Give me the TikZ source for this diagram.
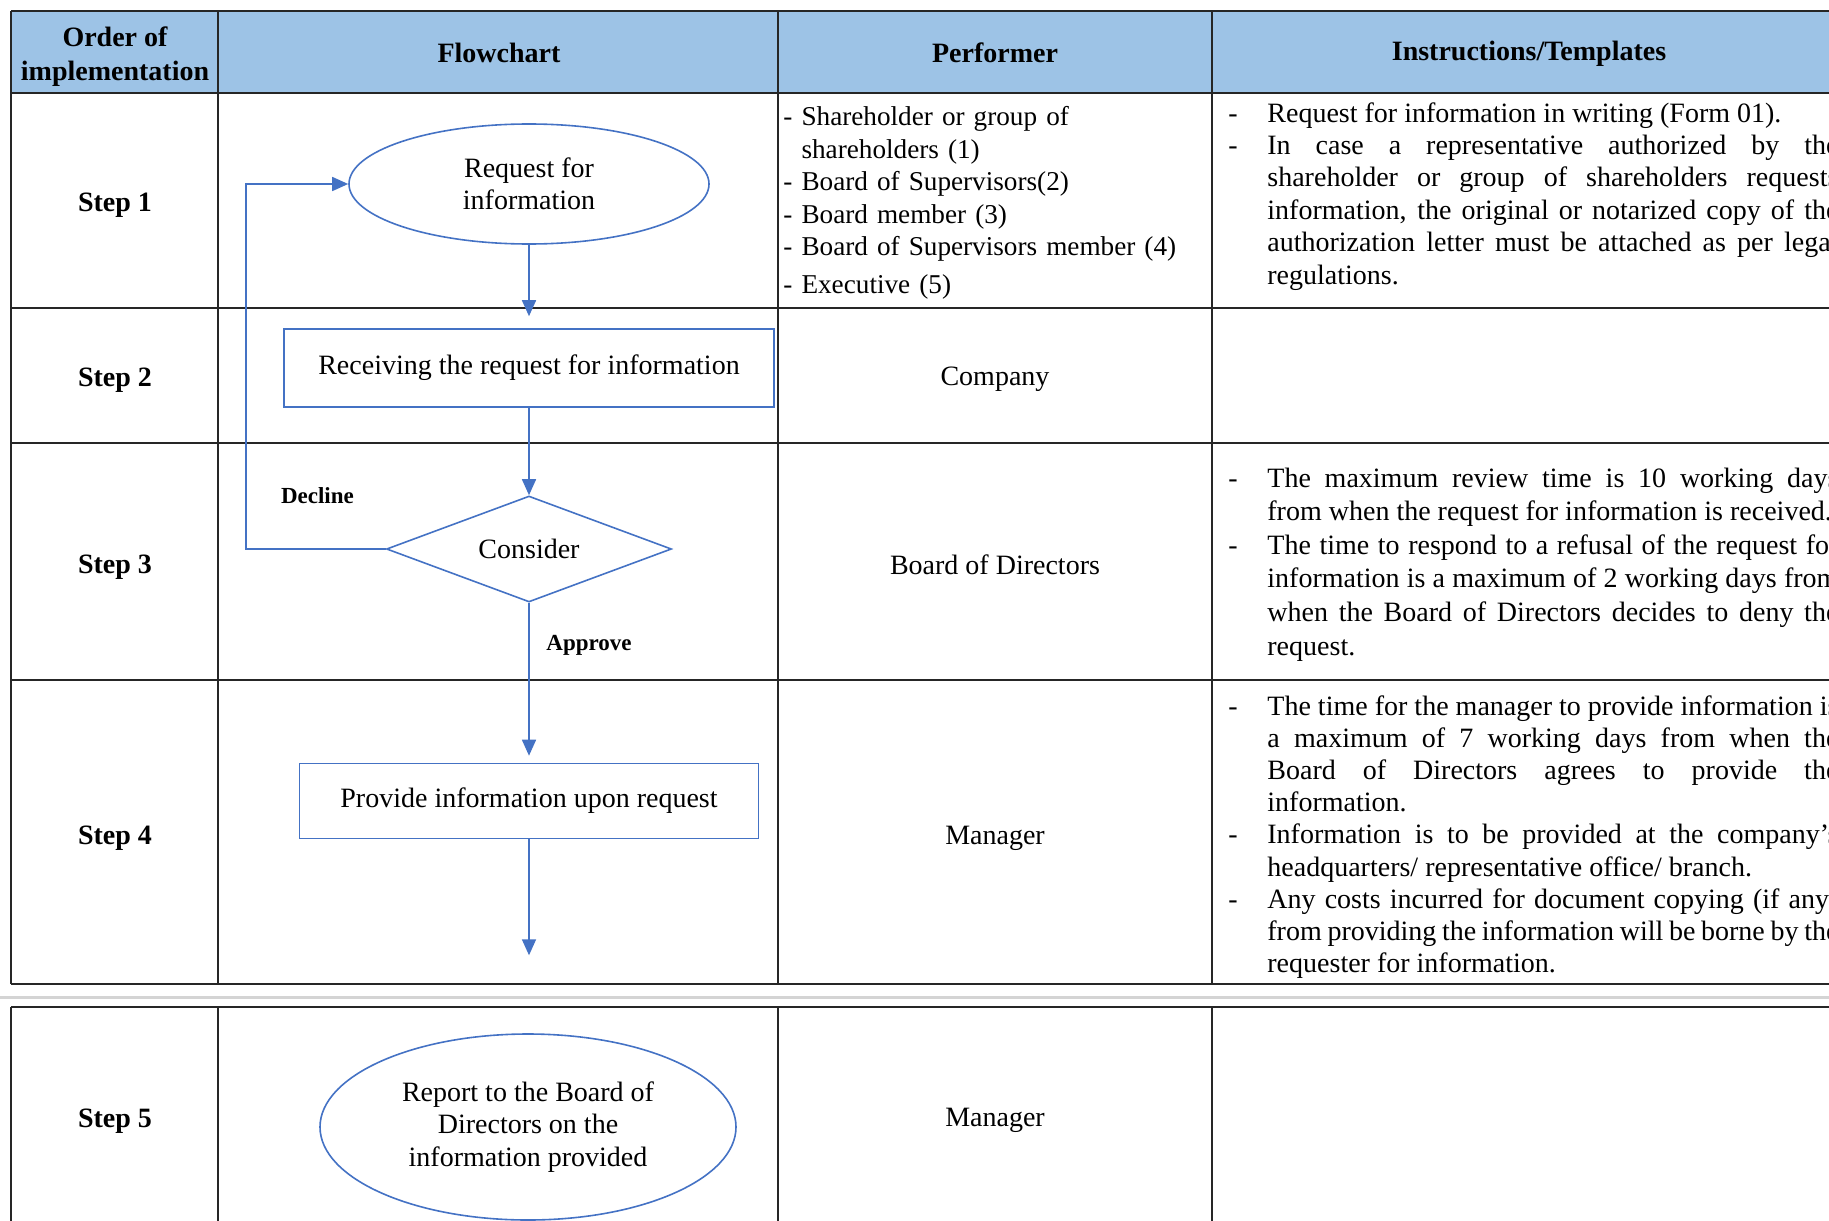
\documentclass[tikz,border=0pt]{standalone}
\usepackage{fontspec}
\setmainfont{Liberation Serif}
\usetikzlibrary{arrows.meta, positioning, shapes.geometric}
\definecolor{headblue}{HTML}{9DC3E6}
\definecolor{flowblue}{HTML}{4472C4}
\definecolor{gapgray}{HTML}{D4D4D4}

\newcommand{\dashmark}{\leavevmode\llap{\makebox[19.5pt][l]{-}}}

\begin{document}
\begin{tikzpicture}[
    x=0.5pt, y=-0.5pt,
    txt/.style={font=\fontsize{14}{16.2}\selectfont},
    head/.style={font=\fontsize{14}{17}\selectfont\bfseries, align=center},
    steplbl/.style={font=\fontsize{14}{16.2}\selectfont\bfseries},
    grid/.style={line width=1pt, black!85},
    flow/.style={txt, draw=flowblue, line width=0.8pt, align=center, inner sep=0pt},
    terminal/.style={flow, ellipse},
    process/.style={flow, rectangle},
    decision/.style={flow, diamond, aspect=2.7},
    arr/.style={flowblue, line width=0.8pt, -{Triangle[length=8pt,width=7pt]}},
    lbl/.style={font=\fontsize{11.5}{13}\selectfont\bfseries},
    list/.style={font=\fontsize{13.6}{16.2}\selectfont, text width=215pt, align=left, anchor=base west, inner sep=0pt},
    instr/.style={txt, text width=285.5pt, align=justify, anchor=base west, inner sep=0pt}
]
    \useasboundingbox (0,0) rectangle (1829,1220);
    \clip (0,0) rectangle (1829,1220);

    % table
    \fill[headblue] (11,11) rectangle (1840,93);
    \foreach \y in {11,93,308,443,680,984}
        \draw[grid] (11,\y) -- (1840,\y);
    \foreach \x in {11,218,778,1212}
        \draw[grid] (\x,11) -- (\x,984);
    \draw[gapgray, line width=1.5pt] (0,997) -- (1829,997);
    \draw[grid] (11,1007) -- (1840,1007);
    \foreach \x in {11,218,778,1212}
        \draw[grid] (\x,1007) -- (\x,1230);

    \node[head] (hOrder) at (115,57) {Order of\\implementation};
    \node[head] (hFlow) at (499,53) {Flowchart};
    \node[head] (hPerf) at (995,53) {Performer};
    \node[head] (hInstr) at (1529,54) {Instructions/Templates};

    \node[steplbl] (s1) at (115,205) {Step 1};
    \node[steplbl] (s2) at (115,380) {Step 2};
    \node[steplbl] (s3) at (115,567) {Step 3};
    \node[steplbl] (s4) at (115,838) {Step 4};
    \node[steplbl] (s5) at (115,1121) {Step 5};

    % flowchart
    \node[terminal, minimum width=180pt, minimum height=60pt] (req) at (529,184) {Request for\\information};
    \node[process, minimum width=245pt, minimum height=39pt] (recv) at (529,368) {Receiving the request for information};
    \node[decision, minimum width=142.5pt, minimum height=53pt] (consider) at (529,549) {Consider};
    \node[process, minimum width=229.5pt, minimum height=37.5pt] (provide) at (529,801) {Provide information upon request};
    \coordinate (out4) at ([yshift=-58pt]provide.south);
    \node[terminal, minimum width=208pt, minimum height=93pt] (report) at (528,1127) {Report to the Board of\\Directors on the\\information provided};

    \draw[arr, shorten >=6pt] (req.south) -- (recv.north);
    \draw[arr] (recv.south) -- (consider.north);
    \draw[arr, shorten >=3.5pt] (consider.south) -- (provide.north);
    \draw[arr] (provide.south) -- (out4);
    \draw[arr] (consider.west) -- ++(-140,0) |- (req.west);

    \node[lbl, anchor=west] (decline) at (274,496) {Decline};
    \node[lbl] (approve) at (589,645) {Approve};

    % performer
    \node[list] (perf1) at (783,126) {- Shareholder or group of\\\phantom{- }shareholders (1)\\- Board of Supervisors(2)\\- Board member (3)\\- Board of Supervisors member (4)\\[2.75pt]- Executive (5)};
    \node[txt] (perf2) at (995,379) {Company};
    \node[txt] (perf3) at (995,565) {Board of Directors};
    \node[txt] (perf4) at (995,838) {Manager};
    \node[txt] (perf5) at (995,1120) {Manager};

    % instructions
    \node[instr] (instr1) at (1267,122) {\dashmark Request for information in writing (Form 01).\par
        \dashmark In case a representative authorized by the\linebreak
        shareholder or group of shareholders requests\linebreak
        information, the original or notarized copy of the\linebreak
        authorization letter must be attached as per legal\linebreak
        regulations.};
    \node[instr, font=\fontsize{14}{16.8}\selectfont] (instr3) at (1267,487) {\dashmark The maximum review time is 10 working days\linebreak
        from when the request for information is received.\par
        \dashmark The time to respond to a refusal of the request for\linebreak
        information is a maximum of 2 working days from\linebreak
        when the Board of Directors decides to deny the\linebreak
        request.};
    \node[instr, font=\fontsize{14}{16.1}\selectfont] (instr4) at (1267,715) {\dashmark The time for the manager to provide information is\linebreak
        a maximum of 7 working days from when the\linebreak
        Board of Directors agrees to provide the\linebreak
        information.\par
        \dashmark Information is to be provided at the company’s\linebreak
        headquarters/ representative office/ branch.\par
        \dashmark Any costs incurred for document copying (if any)\linebreak
        from providing the information will be borne by the\linebreak
        requester for information.};
\end{tikzpicture}
\end{document}
